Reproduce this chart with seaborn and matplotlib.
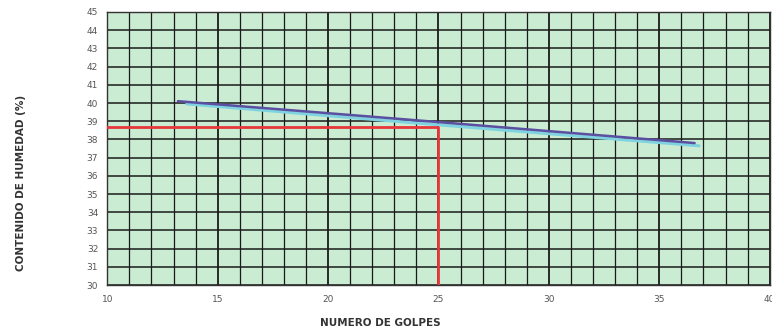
import numpy as np
import pandas as pd
import matplotlib
matplotlib.use("Agg")
import matplotlib.pyplot as plt
import seaborn as sns

# flow curve readings (numero de golpes vs contenido de humedad)
golpes_azul = [13.2, 23.5, 36.6]
humedad_azul = [40.1, 39.1, 37.8]
golpes_cian = [13.6, 25.0, 36.8]
humedad_cian = [39.95, 38.8, 37.65]

# liquid limit reading at 25 blows
golpes_ll = [10, 25, 25]
humedad_ll = [38.7, 38.7, 30]

x_ticks = [10, 15, 20, 25, 30, 35, 40]
y_ticks = list(range(30, 46))

sns.set_style("white")
plt.rcParams['font.family'] = ['DejaVu Sans']

fig = plt.figure(figsize=(7.72, 3.33), dpi=100)
ax = fig.add_axes([0.139, 0.144, 0.858, 0.82])
ax.set_facecolor("#c9ecd2")

# grid
for gx in range(10, 41):
    ax.axvline(gx, color="#1a1a1a", lw=1.3 if gx % 5 == 0 else 0.9, zorder=1)
for gy in y_ticks:
    ax.axhline(gy, color="#1a1a1a", lw=1.1, zorder=1)

df_azul = pd.DataFrame({"golpes": golpes_azul, "humedad": humedad_azul})
df_cian = pd.DataFrame({"golpes": golpes_cian, "humedad": humedad_cian})
df_ll = pd.DataFrame({"golpes": golpes_ll, "humedad": humedad_ll})

sns.lineplot(data=df_cian, x="golpes", y="humedad", color="#7fd3e0", lw=2.2,
             sort=False, estimator=None, ax=ax, zorder=3)
sns.lineplot(data=df_azul, x="golpes", y="humedad", color="#5a4fa0", lw=1.8,
             sort=False, estimator=None, ax=ax, zorder=4)
sns.lineplot(data=df_ll, x="golpes", y="humedad", color="#e8363a", lw=2.0,
             sort=False, estimator=None, ax=ax, zorder=5)

ax.set_xlim(10, 40)
ax.set_ylim(30, 45)
ax.set_xticks(x_ticks)
ax.set_yticks(y_ticks)
ax.tick_params(axis="both", labelsize=6.5, colors="#555555", length=3, width=0.8)
ax.tick_params(axis="x", pad=4)
ax.set_xlabel("")
ax.set_ylabel("")
for s in ax.spines.values():
    s.set_color("#333333")
    s.set_linewidth(1.0)

fig.text(0.493, 0.03, "NUMERO DE GOLPES", ha="center", va="center",
         fontsize=7.5, fontweight="bold", color="#333333")
fig.text(0.027, 0.45, "CONTENIDO DE HUMEDAD (%)", ha="center", va="center",
         rotation=90, fontsize=7.5, fontweight="bold", color="#333333")

fig.savefig("out.png", dpi=100)
